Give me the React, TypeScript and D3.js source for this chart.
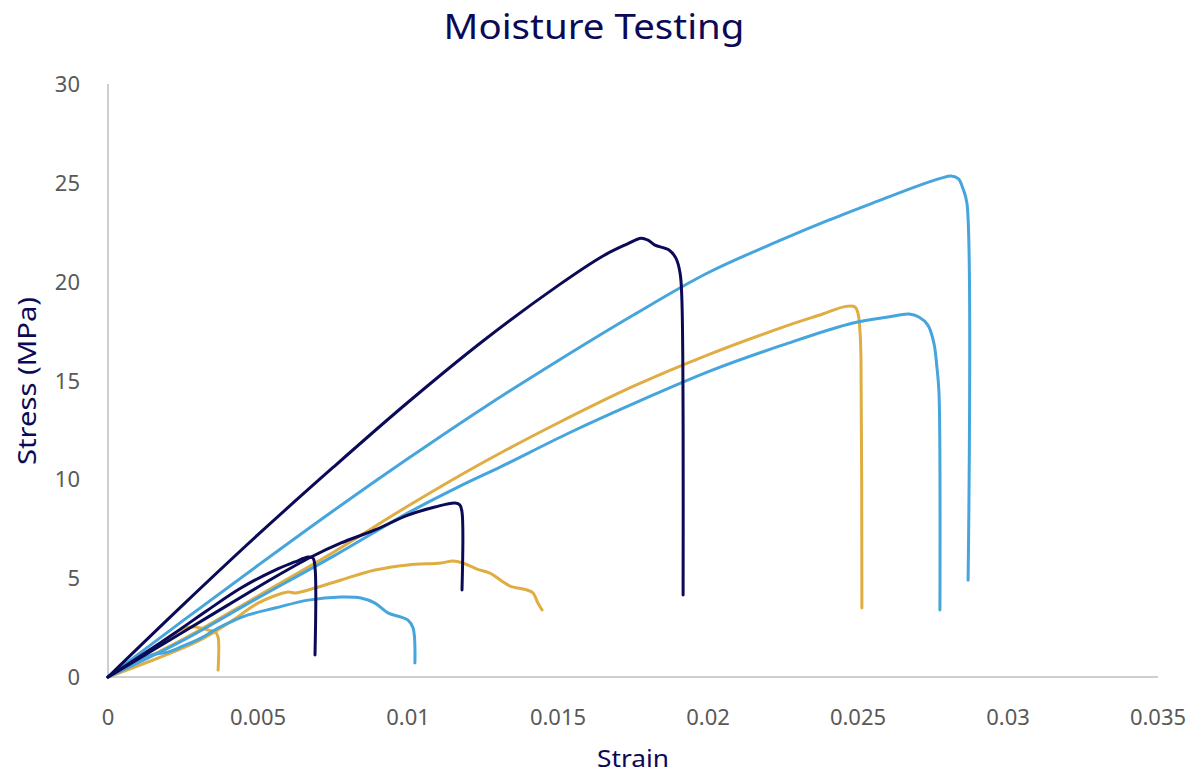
import * as d3 from "d3";

// strain / stress pairs
const navyLarge: [number, number][] = [
  [0, 0], [0.0025, 3.65], [0.005, 7.2], [0.0075, 10.6], [0.01, 13.9],
  [0.0125, 17.0], [0.015, 19.8], [0.0165, 21.3], [0.0173, 21.9], [0.01777, 22.2],
  [0.018, 22.1], [0.01823, 21.85], [0.0187, 21.6], [0.01893, 21.19], [0.01907, 20.43],
  [0.01913, 19.07], [0.01917, 4.15],
];
const navyMedium: [number, number][] = [
  [0, 0], [0.00123, 1.11], [0.00333, 3.03], [0.00557, 5.06], [0.00677, 6.07],
  [0.00777, 6.78], [0.0089, 7.44], [0.01, 8.19], [0.0109, 8.6], [0.01157, 8.8],
  [0.01173, 8.7], [0.0118, 8.35], [0.0118, 4.4],
];
const navySmall: [number, number][] = [
  [0, 0], [0.00123, 1.21], [0.00223, 2.23], [0.00333, 3.39], [0.00443, 4.5],
  [0.00557, 5.41], [0.00623, 5.82], [0.00667, 6.07], [0.00683, 6.02],
  [0.0069, 5.56], [0.0069, 1.11],
];
const blueLarge: [number, number][] = [
  [0, 0], [0.0025, 2.85], [0.005, 5.65], [0.0075, 8.4], [0.01, 11.05], [0.0125, 13.6],
  [0.015, 16.0], [0.0175, 18.3], [0.02, 20.45], [0.0225, 22.15],
  [0.024, 23.1], [0.0257, 24.1], [0.027, 24.85], [0.0278, 25.25], [0.0281, 25.35],
  [0.02835, 25.2], [0.0285, 24.7], [0.02863, 23.98], [0.02867, 4.9],
];
const blueMedium: [number, number][] = [
  [0, 0], [0.0025, 1.85], [0.005, 4.0], [0.0075, 6.1], [0.01, 8.3], [0.0117, 9.63],
  [0.0131, 10.64], [0.0154, 12.37], [0.0178, 14.02], [0.0201, 15.5], [0.0225, 16.8],
  [0.0248, 17.9], [0.026, 18.21], [0.0267, 18.36], [0.02703, 18.21], [0.02733, 17.8],
  [0.02753, 16.89], [0.02763, 15.68], [0.0277, 14.37], [0.02773, 3.39],
];
const blueSmall: [number, number][] = [
  [0, 0], [0.00143, 1.11], [0.002, 1.26], [0.00243, 1.52], [0.0031, 1.97],
  [0.00367, 2.48], [0.00423, 2.88], [0.00467, 3.14], [0.00557, 3.49],
  [0.00667, 3.89], [0.00777, 4.05], [0.00843, 4.0], [0.0089, 3.74],
  [0.00933, 3.24], [0.00977, 3.03], [0.01, 2.88], [0.01017, 2.48], [0.01023, 0.71],
];
const goldLarge: [number, number][] = [
  [0, 0], [0.0025, 1.9], [0.005, 4.1], [0.0075, 6.3], [0.01, 8.65], [0.0125, 10.85],
  [0.015, 12.85], [0.0175, 14.7], [0.02, 16.3], [0.0225, 17.7], [0.0238, 18.35],
  [0.0246, 18.75], [0.0249, 18.72], [0.025, 18.4], [0.02507, 17.4], [0.0251, 16.0],
  [0.02513, 3.49],
];
const goldMedium: [number, number][] = [
  [0, 0], [0.00307, 1.87], [0.00417, 2.88], [0.005, 3.74], [0.006, 4.3],
  [0.00623, 4.25], [0.0069, 4.5], [0.00777, 4.91], [0.0089, 5.41], [0.01, 5.67],
  [0.0111, 5.77], [0.0115, 5.87], [0.01183, 5.77], [0.0123, 5.46], [0.01273, 5.26],
  [0.01317, 4.81], [0.0134, 4.6], [0.01397, 4.4], [0.01417, 4.25], [0.01433, 3.74],
  [0.01447, 3.39],
];
const goldSmall: [number, number][] = [
  [0, 0], [0.0011, 1.01], [0.00223, 2.23], [0.00257, 2.48], [0.0029, 2.53],
  [0.00333, 2.38], [0.00357, 2.28], [0.00367, 2.02], [0.00367, 0.35],
];

const xTicks = [0, 0.005, 0.01, 0.015, 0.02, 0.025, 0.03, 0.035];
const xTickLabels = ["0", "0.005", "0.01", "0.015", "0.02", "0.025", "0.03", "0.035"];
const yTicks = [0, 5, 10, 15, 20, 25, 30];

const NAVY = "#0b0a57";
const BLUE = "#45a5dc";
const GOLD = "#dfad41";

// drawing order: gold first, navy on top
const series = [
  { data: goldLarge, color: GOLD },
  { data: goldMedium, color: GOLD },
  { data: goldSmall, color: GOLD },
  { data: blueLarge, color: BLUE },
  { data: blueMedium, color: BLUE },
  { data: blueSmall, color: BLUE },
  { data: navyLarge, color: NAVY },
  { data: navyMedium, color: NAVY },
  { data: navySmall, color: NAVY },
];

export default function App() {
  const width = 1197;
  const height = 775;
  const font = "'Noto Sans', 'Open Sans', sans-serif";

  const x = d3.scaleLinear().domain([0, 0.035]).range([108, 1158]);
  const y = d3.scaleLinear().domain([0, 30]).range([677, 84]);

  const line = d3
    .line<[number, number]>()
    .x((d) => x(d[0]))
    .y((d) => y(d[1]))
    .curve(d3.curveCatmullRom.alpha(0.5));

  return (
    <svg
      width={width}
      height={height}
      style={{ position: "absolute", left: 0, top: 0, background: "#fff" }}
    >
      <text x={594} y={39} textAnchor="middle" fontFamily={font} fontSize={35} fill={NAVY}
        textLength={301} lengthAdjust="spacingAndGlyphs">
        Moisture Testing
      </text>

      {/* axes lines */}
      <line x1={x(0)} x2={x(0)} y1={y(30)} y2={y(0)} stroke="#bfbfbf" strokeWidth={1.5} />
      <line x1={x(0)} x2={x(0.035)} y1={y(0)} y2={y(0)} stroke="#bfbfbf" strokeWidth={1.5} />

      {yTicks.map((t) => (
        <text key={t} x={80} y={y(t) + 8} textAnchor="end" fontFamily={font} fontSize={22} fill="#595959">
          {t}
        </text>
      ))}
      {xTicks.map((t, i) => (
        <text key={t} x={x(t)} y={725} textAnchor="middle" fontFamily={font} fontSize={22} fill="#595959">
          {xTickLabels[i]}
        </text>
      ))}

      <text x={633} y={767} textAnchor="middle" fontFamily={font} fontSize={23} fill={NAVY}
        textLength={72} lengthAdjust="spacingAndGlyphs">
        Strain
      </text>
      <text
        transform={`translate(36,381) rotate(-90)`}
        textAnchor="middle"
        fontFamily={font}
        fontSize={25}
        fill={NAVY}
        textLength={168}
        lengthAdjust="spacingAndGlyphs"
      >
        Stress (MPa)
      </text>

      <g fill="none" strokeWidth={3} strokeLinejoin="round" strokeLinecap="round">
        {series.map((s, i) => (
          <path key={i} d={line(s.data) ?? ""} stroke={s.color} />
        ))}
      </g>
    </svg>
  );
}
